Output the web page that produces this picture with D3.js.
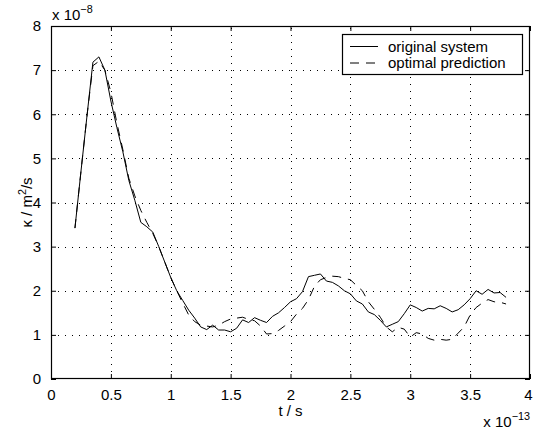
<!DOCTYPE html>
<html>
<head>
<meta charset="utf-8">
<script src="https://cdn.jsdelivr.net/npm/d3@7/dist/d3.min.js"></script>
<style>
  html, body { margin: 0; padding: 0; background: #fff; }
  svg text { font-family: "Liberation Sans", Arial, Helvetica, sans-serif; fill: #000; }
</style>
</head>
<body>
<svg id="chart" width="533" height="430"></svg>
<script>
// time axis (units of 1e-13 s)
const tValues = [
  0.20, 0.25, 0.30, 0.35, 0.40, 0.45, 0.50, 0.55, 0.60, 0.65,
  0.70, 0.75, 0.80, 0.85, 0.90, 0.95, 1.00, 1.05, 1.10, 1.15,
  1.20, 1.25, 1.30, 1.35, 1.40, 1.45, 1.50, 1.55, 1.60, 1.65,
  1.70, 1.75, 1.80, 1.85, 1.90, 1.95, 2.00, 2.05, 2.10, 2.15,
  2.20, 2.25, 2.30, 2.35, 2.40, 2.45, 2.50, 2.55, 2.60, 2.65,
  2.70, 2.75, 2.80, 2.85, 2.90, 2.95, 3.00, 3.05, 3.10, 3.15,
  3.20, 3.25, 3.30, 3.35, 3.40, 3.45, 3.50, 3.55, 3.60, 3.65,
  3.70, 3.75, 3.80
];

// kappa of the original system (units of 1e-8 m^2/s)
const originalSystem = [
  3.42, 4.70, 5.95, 7.18, 7.30, 7.00, 6.30, 5.70, 5.15, 4.50,
  4.05, 3.55, 3.45, 3.33, 3.00, 2.65, 2.30, 2.00, 1.78, 1.56,
  1.38, 1.18, 1.12, 1.22, 1.11, 1.11, 1.07, 1.15, 1.34, 1.28,
  1.39, 1.33, 1.28, 1.42, 1.50, 1.62, 1.75, 1.82, 1.98, 2.32,
  2.35, 2.38, 2.22, 2.19, 2.11, 2.00, 1.93, 1.77, 1.70, 1.52,
  1.46, 1.33, 1.18, 1.24, 1.30, 1.48, 1.68, 1.62, 1.54, 1.60,
  1.59, 1.66, 1.60, 1.52, 1.57, 1.68, 1.82, 2.00, 1.92, 2.03,
  1.95, 1.96, 1.85
];

// kappa from the optimal prediction (units of 1e-8 m^2/s)
const optimalPrediction = [
  3.42, 4.70, 5.95, 7.10, 7.20, 7.00, 6.50, 5.80, 5.20, 4.55,
  4.15, 3.82, 3.55, 3.30, 3.00, 2.65, 2.30, 2.00, 1.72, 1.45,
  1.30, 1.22, 1.20, 1.18, 1.22, 1.30, 1.36, 1.38, 1.40, 1.35,
  1.32, 1.20, 1.02, 1.03, 1.10, 1.20, 1.30, 1.47, 1.60, 1.80,
  2.10, 2.25, 2.30, 2.33, 2.32, 2.28, 2.25, 2.12, 2.00, 1.75,
  1.58, 1.40, 1.18, 1.07, 1.17, 1.13, 0.95, 1.05, 1.02, 0.92,
  0.88, 0.90, 0.88, 0.90, 1.04, 1.18, 1.45, 1.62, 1.72, 1.80,
  1.75, 1.74, 1.70
];

const xTicks = [0, 0.5, 1, 1.5, 2, 2.5, 3, 3.5, 4];
const xTickLabels = ["0", "0.5", "1", "1.5", "2", "2.5", "3", "3.5", "4"];
const yTicks = [0, 1, 2, 3, 4, 5, 6, 7, 8];
const yTickLabels = ["0", "1", "2", "3", "4", "5", "6", "7", "8"];
const seriesNames = ["original system", "optimal prediction"];

const svg = d3.select("#chart");
const mLeft = 51, mRight = 530, mTop = 26, mBottom = 379;
const fontSize = 15;
const dash = "9,7";

const x = d3.scaleLinear().domain([0, 4]).range([mLeft, mRight]);
const y = d3.scaleLinear().domain([0, 8]).range([mBottom, mTop]);

// dotted grid
const grid = svg.append("g").attr("stroke", "#000").attr("stroke-width", 1)
  .attr("stroke-dasharray", "1,6").attr("shape-rendering", "crispEdges");
grid.selectAll("line.gx").data(xTicks.slice(1, -1)).join("line")
  .attr("x1", d => Math.round(x(d)) + 0.5).attr("x2", d => Math.round(x(d)) + 0.5)
  .attr("y1", mBottom).attr("y2", mTop);
grid.selectAll("line.gy").data(yTicks.slice(1, -1)).join("line")
  .attr("y1", d => Math.round(y(d)) + 0.5).attr("y2", d => Math.round(y(d)) + 0.5)
  .attr("x1", mLeft).attr("x2", mRight);

// data lines
const line = d3.line().x((d, i) => x(tValues[i])).y(d => y(d));
svg.append("path").datum(originalSystem)
  .attr("fill", "none").attr("stroke", "#000").attr("stroke-width", 1)
  .attr("d", line);
svg.append("path").datum(optimalPrediction)
  .attr("fill", "none").attr("stroke", "#000").attr("stroke-width", 1)
  .attr("stroke-dasharray", dash)
  .attr("d", line);

// axes with inward ticks on all four sides
const tickLen = 5;
const axisStyle = g => {
  g.select(".domain").remove();
  g.selectAll(".tick line").attr("stroke", "#000");
  g.selectAll(".tick text").attr("font-size", fontSize).attr("font-family", null);
};
const xAxisG = svg.append("g").attr("transform", `translate(0,${mBottom})`)
  .call(d3.axisBottom(x).tickValues(xTicks).tickFormat((d, i) => xTickLabels[i])
    .tickSizeInner(-tickLen).tickSizeOuter(0).tickPadding(10))
  .call(axisStyle);
// keep the last tick label inside the canvas
xAxisG.selectAll(".tick text").filter(d => d === xTicks[xTicks.length - 1]).attr("dx", -2);
svg.append("g").attr("transform", `translate(0,${mTop})`)
  .call(d3.axisTop(x).tickValues(xTicks).tickFormat("").tickSizeInner(-tickLen).tickSizeOuter(0))
  .call(axisStyle);
svg.append("g").attr("transform", `translate(${mLeft},0)`)
  .call(d3.axisLeft(y).tickValues(yTicks).tickFormat((d, i) => yTickLabels[i])
    .tickSizeInner(-tickLen).tickSizeOuter(0).tickPadding(10))
  .call(axisStyle);
svg.append("g").attr("transform", `translate(${mRight},0)`)
  .call(d3.axisRight(y).tickValues(yTicks).tickFormat("").tickSizeInner(-tickLen).tickSizeOuter(0))
  .call(axisStyle);

// box
svg.append("rect").attr("x", mLeft + 0.5).attr("y", mTop + 0.5)
  .attr("width", mRight - mLeft - 1).attr("height", mBottom - mTop - 1)
  .attr("fill", "none").attr("stroke", "#000").attr("stroke-width", 1.2);

// exponent labels
const yExp = svg.append("text").attr("x", mLeft + 1).attr("y", 20).attr("font-size", fontSize);
yExp.append("tspan").text("x 10");
yExp.append("tspan").attr("dy", -7).attr("font-size", fontSize * 0.72).text("\u22128");
const xExp = svg.append("text").attr("x", mRight).attr("y", 427)
  .attr("text-anchor", "end").attr("font-size", fontSize);
xExp.append("tspan").text("x 10");
xExp.append("tspan").attr("dy", -7).attr("font-size", fontSize * 0.72).text("\u221213");

// axis titles
svg.append("text").attr("x", (mLeft + mRight) / 2).attr("y", 416)
  .attr("text-anchor", "middle").attr("font-size", fontSize).text("t / s");
const yl = svg.append("text")
  .attr("transform", `translate(32,${(mTop + mBottom) / 2}) rotate(-90)`)
  .attr("text-anchor", "middle").attr("font-size", fontSize);
yl.append("tspan").text("\u03ba / m");
yl.append("tspan").attr("dy", -6).attr("font-size", fontSize * 0.72).text("2");
yl.append("tspan").attr("dy", 6).text("/s");

// legend
const lg = svg.append("g");
lg.append("rect").attr("x", 342.5).attr("y", 34.5).attr("width", 180).attr("height", 40)
  .attr("fill", "#fff").attr("stroke", "#000").attr("stroke-width", 1.2);
const rows = [46.5, 63];
seriesNames.forEach((name, i) => {
  lg.append("line").attr("x1", 350).attr("x2", 378).attr("y1", rows[i]).attr("y2", rows[i])
    .attr("stroke", "#000").attr("stroke-width", 1)
    .attr("stroke-dasharray", i === 1 ? dash : null);
  lg.append("text").attr("x", 388).attr("y", rows[i] + 5)
    .attr("font-size", fontSize).text(name);
});
</script>
</body>
</html>
